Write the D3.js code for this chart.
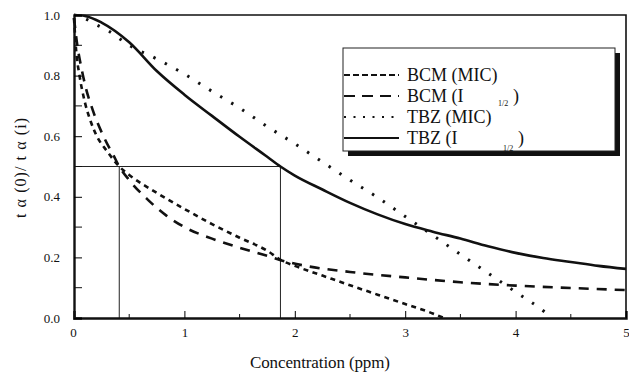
<!DOCTYPE html>
<html>
<head>
<meta charset="utf-8">
<script src="https://cdn.jsdelivr.net/npm/d3@7"></script>
<style>
  body { margin: 0; background: #fff; }
  svg text { font-family: "Liberation Serif", "Times New Roman", "DejaVu Serif", serif; fill: #111; }
</style>
</head>
<body>
<div id="chart"></div>
<script>
// ---- data ----
var xTicks = [0, 1, 2, 3, 4, 5];
var yTicks = [0, 0.2, 0.4, 0.6, 0.8, 1.0];

var bcmMicX = [0, 0.02, 0.05, 0.1, 0.15, 0.2, 0.3, 0.41, 0.5, 0.75, 1.0, 1.25, 1.5, 1.75, 1.88, 2.0, 2.25, 2.5, 2.75, 3.0, 3.25, 3.35];
var bcmMicY = [0.99, 0.88, 0.80, 0.71, 0.65, 0.605, 0.55, 0.5, 0.472, 0.413, 0.36, 0.31, 0.265, 0.222, 0.19, 0.172, 0.14, 0.108, 0.077, 0.046, 0.015, 0];

var bcmHalfX = [0, 0.03, 0.07, 0.1, 0.17, 0.28, 0.36, 0.41, 0.5, 0.67, 0.84, 1.0, 1.25, 1.5, 1.75, 1.88, 2.1, 2.5, 3.0, 3.5, 4.0, 4.5, 5.0];
var bcmHalfY = [0.99, 0.9, 0.82, 0.77, 0.686, 0.59, 0.535, 0.5, 0.455, 0.39, 0.337, 0.3, 0.262, 0.232, 0.205, 0.19, 0.172, 0.152, 0.134, 0.118, 0.107, 0.099, 0.092];

var tbzMicX = [0, 0.1, 0.2, 0.3, 0.5, 0.75, 1.0, 1.25, 1.5, 1.75, 2.0, 2.25, 2.5, 2.75, 3.0, 3.25, 3.5, 3.75, 4.0, 4.25, 4.33];
var tbzMicY = [1.0, 0.988, 0.968, 0.95, 0.9, 0.855, 0.805, 0.748, 0.693, 0.632, 0.575, 0.515, 0.455, 0.398, 0.335, 0.273, 0.21, 0.148, 0.086, 0.024, 0];

var tbzHalfX = [0, 0.1, 0.25, 0.5, 0.75, 1.0, 1.25, 1.5, 1.75, 1.87, 2.0, 2.25, 2.5, 2.75, 3.0, 3.25, 3.5, 3.75, 4.0, 4.25, 4.5, 4.75, 5.0];
var tbzHalfY = [1.0, 0.997, 0.975, 0.91, 0.815, 0.737, 0.667, 0.598, 0.532, 0.5, 0.47, 0.424, 0.38, 0.342, 0.31, 0.285, 0.262, 0.237, 0.215, 0.198, 0.185, 0.172, 0.162];

// guide lines at half value
var refX = [0.41, 1.87];
var refY = 0.5;

var seriesNames = ["BCM (MIC)", "BCM (I", "TBZ (MIC)", "TBZ (I"];

// ---- layout ----
var W = 629, H = 377;
var margin = {top: 15, right: 3, bottom: 59, left: 74};
var width = W - margin.left - margin.right,
    height = H - margin.top - margin.bottom;

var svg = d3.select("#chart").append("svg")
    .attr("width", W).attr("height", H)
    .attr("font-family", "Liberation Serif, Times New Roman, serif");

var g = svg.append("g")
    .attr("transform", "translate(" + margin.left + "," + margin.top + ")");

var x = d3.scaleLinear().domain([0, 5]).range([0, width]);
var y = d3.scaleLinear().domain([0, 1]).range([height, 0]);

function zip(xs, ys) { return xs.map(function(v, i) { return [v, ys[i]]; }); }

var series = [
  {name: seriesNames[0], pts: zip(bcmMicX, bcmMicY), dash: "5,4.5", legDash: "6,3"},
  {name: seriesNames[1], pts: zip(bcmHalfX, bcmHalfY), dash: "10,8", legDash: "11,7"},
  {name: seriesNames[2], pts: zip(tbzMicX, tbzMicY), dash: "2.4,10.5", legDash: "2,7.5"},
  {name: seriesNames[3], pts: zip(tbzHalfX, tbzHalfY), dash: null, legDash: null}
];

var line = d3.line()
    .x(function(d) { return x(d[0]); })
    .y(function(d) { return y(d[1]); })
    .curve(d3.curveMonotoneX);

// frame (top / right)
g.append("path")
    .attr("d", "M0,0H" + width + "V" + height)
    .attr("fill", "none").attr("stroke", "#111").attr("stroke-width", 1.6);

// guide lines
g.append("path")
    .attr("d", "M0," + y(refY) + "H" + x(refX[1]))
    .attr("stroke", "#222").attr("stroke-width", 1).attr("fill", "none");
g.selectAll("line.ref").data(refX).enter().append("line")
    .attr("class", "ref")
    .attr("x1", function(d) { return x(d); }).attr("x2", function(d) { return x(d); })
    .attr("y1", y(0)).attr("y2", y(refY))
    .attr("stroke", "#222").attr("stroke-width", 1);

// curves
g.selectAll("path.curve").data(series).enter().append("path")
    .attr("class", "curve")
    .attr("d", function(d) { return line(d.pts); })
    .attr("fill", "none")
    .attr("stroke", "#111")
    .attr("stroke-width", function(d, i) { return i === 2 ? 3 : 2.6; })
    .attr("stroke-dasharray", function(d) { return d.dash; });

// x axis, ticks inside
var xAxis = g.append("g").attr("class", "x axis")
    .attr("transform", "translate(0," + height + ")")
    .call(d3.axisBottom(x).tickValues(xTicks).tickSize(-7).tickPadding(10).tickFormat(d3.format("d")));
xAxis.append("g").selectAll("line")
    .data(d3.range(0.5, 5, 1)).enter().append("line")
    .attr("x1", function(d) { return x(d); }).attr("x2", function(d) { return x(d); })
    .attr("y1", 0).attr("y2", -4).attr("stroke", "#111");

// y axis, ticks inside
var yAxis = g.append("g").attr("class", "y axis")
    .call(d3.axisLeft(y).tickValues(yTicks).tickSize(-8).tickPadding(14).tickFormat(d3.format(".1f")));
yAxis.append("g").selectAll("line")
    .data(d3.range(0.1, 1, 0.2)).enter().append("line")
    .attr("x1", 0).attr("x2", 8)
    .attr("y1", function(d) { return y(d); }).attr("y2", function(d) { return y(d); })
    .attr("stroke", "#111");

svg.selectAll(".axis").attr("font-family", null);
svg.selectAll(".axis path.domain").attr("stroke", "#111").attr("stroke-width", 2.4);
svg.selectAll(".axis text").style("font-size", "13px").attr("fill", "#222");
xAxis.select(".tick text").attr("dx", -1);

// axis titles
svg.append("text")
    .attr("x", 320).attr("y", 368)
    .attr("text-anchor", "middle")
    .attr("textLength", 140).attr("lengthAdjust", "spacing")
    .style("font-size", "17px")
    .text("Concentration (ppm)");

svg.append("text")
    .attr("transform", "translate(26,168) rotate(-90)")
    .attr("text-anchor", "middle")
    .attr("textLength", 100).attr("lengthAdjust", "spacing")
    .style("font-size", "16px")
    .text("t \u03b1 (0)/ t \u03b1 (i)");

// legend
var leg = svg.append("g").attr("transform", "translate(343,48)");
var legW = 272, legH = 103;
leg.append("rect").attr("x", 5).attr("y", 5).attr("width", legW).attr("height", legH).attr("fill", "#111");
leg.append("rect").attr("width", legW).attr("height", legH)
    .attr("fill", "#fff").attr("stroke", "#222").attr("stroke-width", 1);

var legRows = leg.selectAll("g.row").data(series).enter().append("g")
    .attr("class", "row")
    .attr("transform", function(d, i) { return "translate(0," + (27 + i * 21) + ")"; });
legRows.append("line")
    .attr("x1", 1).attr("x2", 56).attr("y1", 0).attr("y2", 0)
    .attr("stroke", "#111").attr("stroke-width", 2)
    .attr("stroke-dasharray", function(d) { return d.legDash; });
legRows.append("text")
    .attr("x", 64).attr("y", 6)
    .style("font-size", "18px")
    .text(function(d) { return d.name; });

// subscripts "1/2" and closing brackets
legRows.filter(function(d, i) { return i === 1 || i === 3; })
    .each(function(d, i) {
      var row = d3.select(this);
      row.append("text").attr("x", i === 0 ? 155 : 160).attr("y", i === 0 ? 10 : 13)
          .style("font-size", "8px").attr("fill", "#555").text("1/2");
      row.append("text").attr("x", i === 0 ? 170 : 175).attr("y", 6)
          .style("font-size", "18px").text(")");
    });
</script>
</body>
</html>
